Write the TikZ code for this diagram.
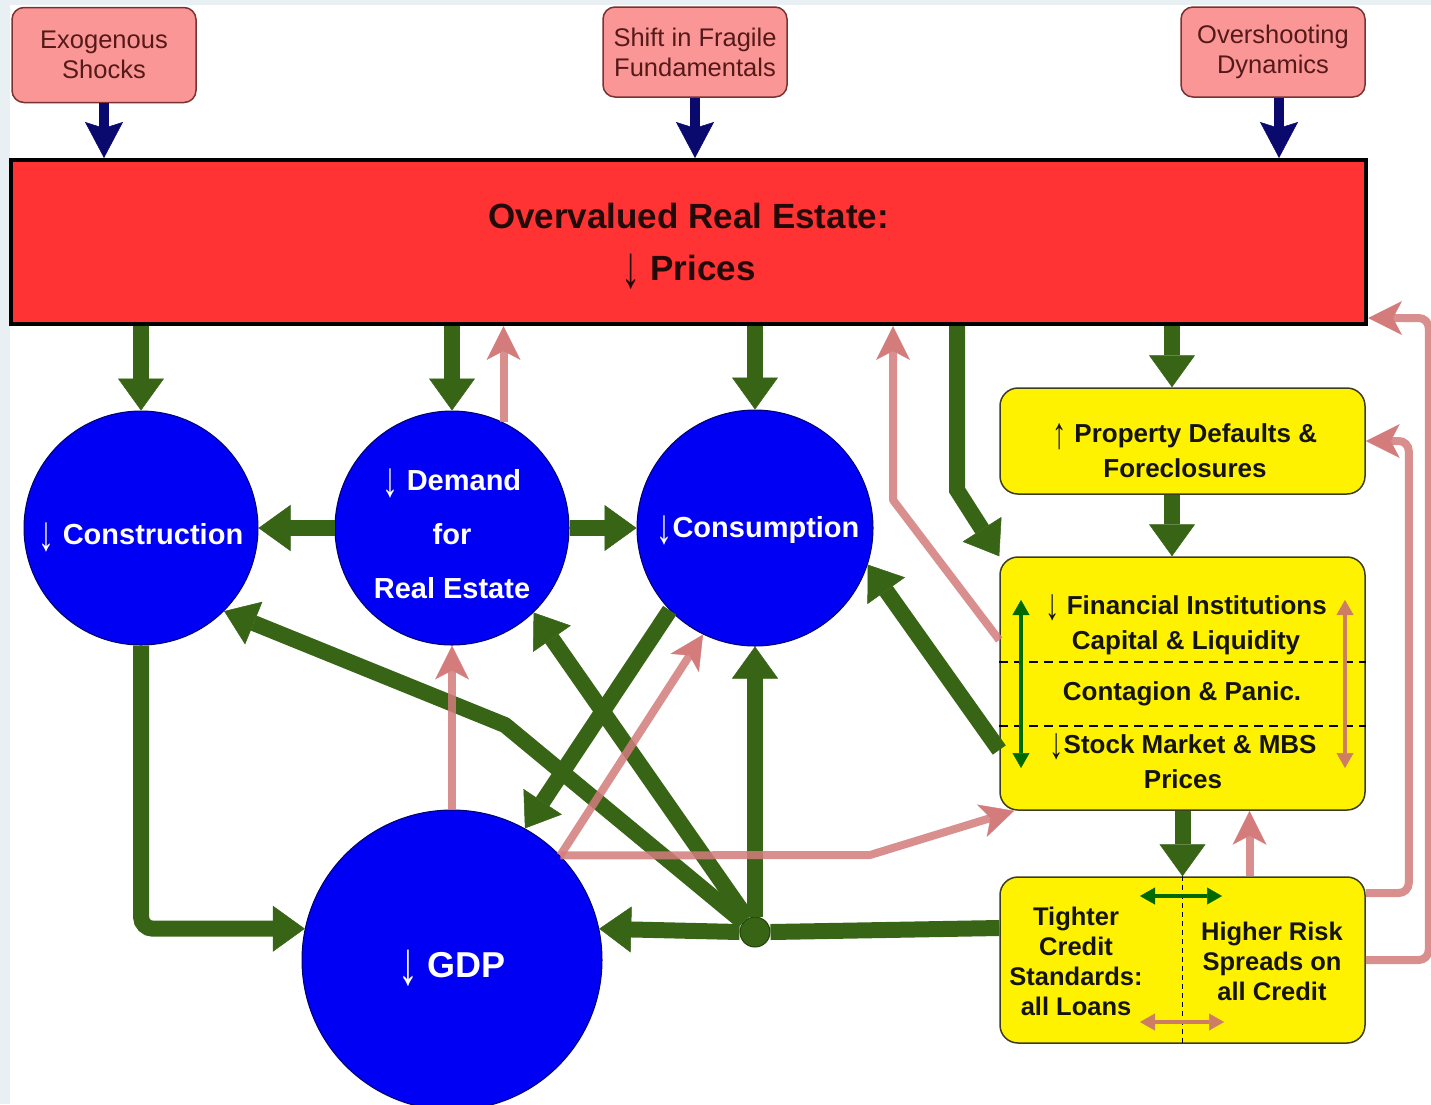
\documentclass[tikz,border=0pt]{standalone}
\usepackage{fontspec}
\usepackage{graphicx}
\setmainfont{Liberation Sans}
\usetikzlibrary{arrows.meta}
\newcommand{\myDown}{{\mdseries\smash{\raisebox{-0.2em}{\scalebox{1.1}[1.7]{↓}}}}}
\newcommand{\myUp}{{\mdseries\smash{\raisebox{-0.2em}{\scalebox{1.1}[1.7]{↑}}}}}
\definecolor{bgframe}{RGB}{232,240,244}
\definecolor{pinkfill}{RGB}{250,150,150}
\definecolor{pinkbd}{RGB}{120,50,50}
\definecolor{pinktxt}{RGB}{85,25,25}
\definecolor{redfill}{RGB}{255,51,51}
\definecolor{redtxt}{RGB}{35,10,10}
\definecolor{bluefill}{RGB}{0,0,245}
\definecolor{bluebd}{RGB}{0,0,110}
\definecolor{ybd}{RGB}{60,60,30}
\definecolor{ytxt}{RGB}{20,20,10}
\definecolor{grn}{RGB}{56,100,22}
\definecolor{grnbd}{RGB}{35,65,12}
\definecolor{rose}{RGB}{212,124,124}
\definecolor{navyc}{RGB}{10,10,110}
\definecolor{brgreen}{RGB}{0,105,0}
\definecolor{orng}{RGB}{205,125,100}
\begin{document}
\begin{tikzpicture}[x=1pt,y=-1pt,
  pinkbox/.style={draw=pinkbd, fill=pinkfill, line width=1.5pt, rounded corners=12pt,
    minimum width=184pt, minimum height=92pt, align=center, text=pinktxt,
    font=\fontsize{25.5}{30}\selectfont, inner sep=0pt},
  redbox/.style={draw=black, line width=4pt, fill=redfill, minimum width=1355pt,
    minimum height=164pt, align=center, text=redtxt, inner sep=0pt,
    font=\bfseries\fontsize{35}{52}\selectfont},
  bcirc/.style={circle, draw=bluebd, line width=1pt, fill=bluefill, inner sep=0pt},
  ctext/.style={text=white, align=center, inner sep=0pt, font=\bfseries\fontsize{29}{54}\selectfont},
  ybox/.style={draw=ybd, line width=1.5pt, fill=yellow, rounded corners=18pt,
    minimum width=365pt, inner sep=0pt},
  ytext/.style={align=center, inner sep=0pt, text=ytxt, font=\bfseries\fontsize{26}{35}\selectfont},
  ctxt/.style={align=center, inner sep=0pt, text=ytxt, font=\bfseries\fontsize{25.5}{30}\selectfont},
  gr/.style={draw=grn, line width=16pt, -{Triangle[length=32pt,width=46pt,line width=0.5pt]}},
  grl/.style={draw=grn, line width=16pt},
  rs/.style={draw=rose, draw opacity=0.85, line width=8pt,
    -{Stealth[length=34pt,width=34pt,inset=9pt,line width=0.5pt]}},
  nv/.style={draw=navyc, line width=10pt, -{Stealth[length=36pt,width=38pt,inset=6pt,line width=0.5pt]}},
  dbl/.style={line width=3.5pt, {Triangle[length=15pt,width=17pt,line width=0.5pt]}-{Triangle[length=15pt,width=17pt,line width=0.5pt]}},
  dsh/.style={draw=black, line width=2.5pt, dash pattern=on 9pt off 6pt}
]
\useasboundingbox (0,0) rectangle (1431,1104);
\fill[bgframe] (0,0) rectangle (1431,1104);
\fill[white] (10,5) rectangle (1431,1104);

% top boxes
\node[pinkbox, minimum height=95pt] (exo) at (104,55) {Exogenous\\Shocks};
\node[pinkbox, minimum height=90pt] (shf) at (695,52) {Shift in Fragile\\Fundamentals};
\node[pinkbox, minimum height=90pt] (ovs) at (1273,52) {Overshooting\\Dynamics};

% red box
\node[redbox] (re) at (688.5,242) {Overvalued Real Estate:\\\myDown{} Prices};

% circles
\node[bcirc, minimum size=234pt] (con) at (141,528) {};
\node[bcirc, minimum size=234pt] (dem) at (452,528) {};
\node[bcirc, minimum size=236pt] (cons) at (755,528) {};
\node[bcirc, minimum size=300pt] (gdp) at (452,960) {};
\node[ctext] (conT) at (141,534) {\myDown{} Construction};
\node[ctext] (demT) at (452,534) {\myDown{} Demand\\for\\Real Estate};
\node[ctext] (consT) at (758,530) {\myDown{}Consumption};
\node[ctext, font=\bfseries\fontsize{36}{40}\selectfont] (gdpT) at (452,965) {\myDown{} GDP};

% yellow boxes
\node[ybox, minimum height=106pt] (prop) at (1182.5,441) {};
\node[ybox, minimum height=253pt] (fin) at (1182.5,683.5) {};
\node[ybox, minimum height=166pt] (cred) at (1182.5,960) {};
\node[ytext] (propT) at (1185,451) {\myUp{} Property Defaults \&\\Foreclosures};
\node[ytext] (finA) at (1186,625.5) {\myDown{} Financial Institutions\\Capital \& Liquidity};
\node[ytext] (finB) at (1182,694) {Contagion \& Panic.};
\node[ytext] (finC) at (1183,761.5) {\myDown{}Stock Market \& MBS\\Prices};
\node[ctxt] (credL) at (1076,961) {Tighter\\Credit\\Standards:\\all Loans};
\node[ctxt] (credR) at (1272,961) {Higher Risk\\Spreads on\\all Credit};

% dashed separators
\draw[dsh] ([yshift=21.5pt]fin.west) -- ([yshift=21.5pt]fin.east);
\draw[dsh] ([yshift=-42.5pt]fin.west) -- ([yshift=-42.5pt]fin.east);
\draw[draw=black, line width=1.5pt, dash pattern=on 5pt off 4pt] (cred.north) -- (cred.south);

% inner double arrows
\coordinate (ga1) at (1021,600); \coordinate (ga2) at (1021,768);
\coordinate (oa1) at (1345,600); \coordinate (oa2) at (1345,768);
\coordinate (gh1) at (1140,896); \coordinate (gh2) at (1222,896);
\coordinate (oh1) at (1140,1022); \coordinate (oh2) at (1224,1022);
\draw[dbl, brgreen] (ga1) -- (ga2);
\draw[dbl, orng] (oa1) -- (oa2);
\draw[dbl, brgreen] (gh1) -- (gh2);
\draw[dbl, orng] (oh1) -- (oh2);

% navy arrows
\draw[nv] (exo.south) -- (exo.south |- re.north);
\draw[nv] (shf.south) -- (shf.south |- re.north);
\draw[nv] ([xshift=6pt]ovs.south) -- ([xshift=6pt]ovs.south |- re.north);

% green arrows
\draw[gr] (re.south -| con) -- (con.north);
\draw[gr] (re.south -| dem) -- (dem.north);
\draw[gr] (re.south -| cons) -- (cons.north);
\coordinate (gb1) at (957,490);
\draw[gr] (gb1 |- re.south) -- (gb1) -- (fin.north west);
\coordinate (pa) at (1172,441);
\draw[gr] (re.south -| pa) -- (pa |- prop.north);
\draw[gr] (pa |- prop.south) -- (pa |- fin.north);
\draw[gr] (fin.south) -- (cred.north);
\draw[gr] (dem.west) -- (con.east);
\draw[gr] (dem.east) -- (cons.west);
\draw[gr, rounded corners=12pt] (con.south) |- (gdp.168);
\draw[gr] (cons.224) -- (gdp.61);
\draw[gr] ([yshift=-66.5pt]fin.west) -- (cons.342);
\node[circle, fill=grn, draw=grnbd, line width=1pt, minimum size=30pt, inner sep=0pt] (hub) at (755,932) {};
\draw[grl] ([yshift=32pt]cred.west) -- (hub.east);
\draw[gr] (hub.west) -- (gdp.12);
\draw[gr] (hub.north) -- (cons.south);
\draw[gr] (hub.120) -- (dem.314);
\coordinate (gb2) at (505,725);
\draw[gr, line join=round] (hub.140) -- (gb2) -- (con.315);

% rose arrows
\draw[rs] (dem.64) -- (dem.64 |- re.south);
\coordinate (rb1) at (893,500);
\draw[rs, line join=round] ([yshift=43.5pt]fin.west) -- (rb1) -- (rb1 |- re.south);
\draw[rs] (gdp.north) -- (dem.south);
\draw[rs] (gdp.44) -- (cons.244);
\coordinate (rb2) at (870,855);
\draw[rs, line join=round] (gdp.44) -- (rb2) -- ([xshift=15pt]fin.south west);
\draw[rs] ([xshift=67pt]cred.north) -- ([xshift=67pt]fin.south);
\draw[rs, rounded corners=10pt] ([yshift=67pt]cred.east) -- ++(43,0) |- (prop.east);
\draw[rs, rounded corners=10pt] (cred.east) -- ++(63,0) |- ([yshift=-76pt]re.east);
\end{tikzpicture}
\end{document}
